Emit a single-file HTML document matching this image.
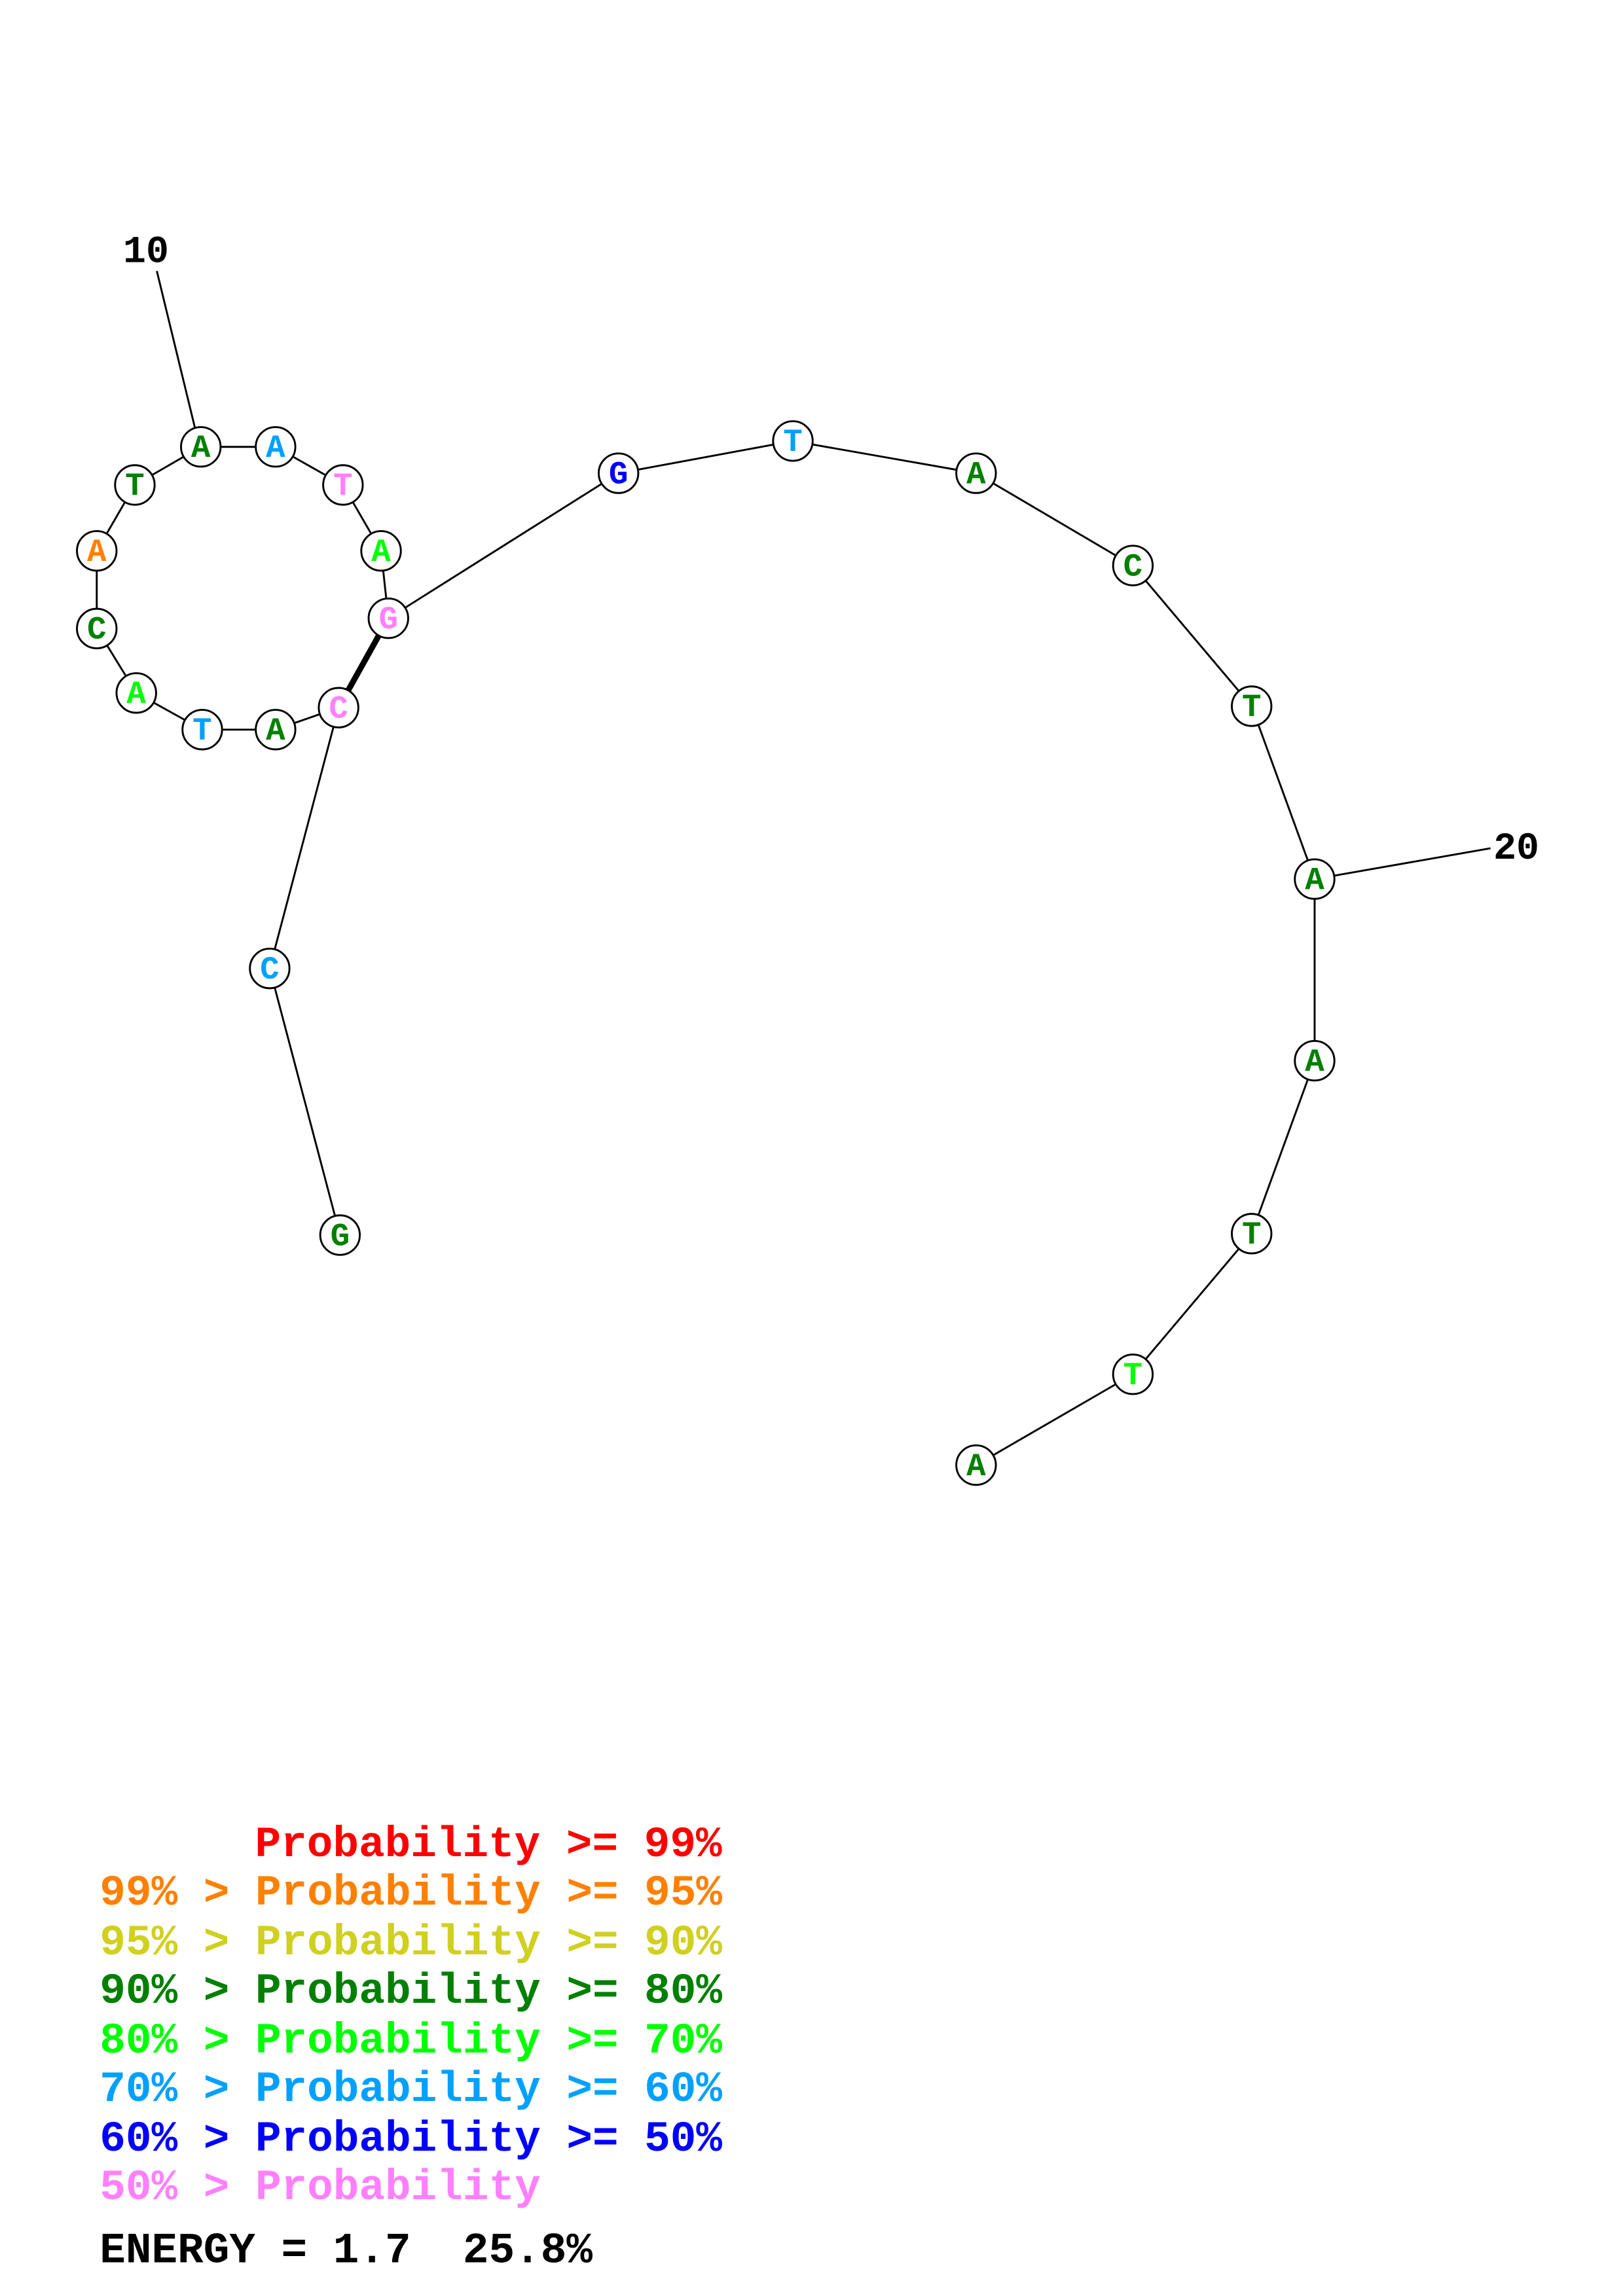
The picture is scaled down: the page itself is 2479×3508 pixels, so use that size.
<!DOCTYPE html>
<html><head><meta charset="utf-8"><style>
html,body{margin:0;padding:0;background:#fff;}
svg{display:block;}
text{font-family:"Liberation Mono",monospace;font-weight:bold;}
</style></head><body>
<svg width="2479" height="3508" viewBox="0 0 1107.4 1567.1" xmlns="http://www.w3.org/2000/svg">
<rect width="1110" height="1570" fill="#fff"/>
<g stroke="#000" stroke-width="1.3" fill="none">
<polyline points="232,843 184,661 231,483 188,498 138,498 93,473 66,429 66,376 92,331 137,305 188,305 234,331 260,376 265,422 422,323 541,301 666,323 773,386 854,482 897,600 897,724 854,842 773,938 666,1000"/>
<line x1="107" y1="185" x2="133" y2="292"/>
<line x1="897" y1="600" x2="1017" y2="579"/>
<line x1="231" y1="483" x2="265" y2="422" stroke-width="4"/>
</g>
<g stroke="#000" stroke-width="1.3" fill="#fff">
<circle cx="232" cy="843" r="13.5"/><circle cx="184" cy="661" r="13.5"/><circle cx="231" cy="483" r="13.5"/>
<circle cx="188" cy="498" r="13.5"/><circle cx="138" cy="498" r="13.5"/><circle cx="93" cy="473" r="13.5"/>
<circle cx="66" cy="429" r="13.5"/><circle cx="66" cy="376" r="13.5"/><circle cx="92" cy="331" r="13.5"/>
<circle cx="137" cy="305" r="13.5"/><circle cx="188" cy="305" r="13.5"/><circle cx="234" cy="331" r="13.5"/>
<circle cx="260" cy="376" r="13.5"/><circle cx="265" cy="422" r="13.5"/><circle cx="422" cy="323" r="13.5"/>
<circle cx="541" cy="301" r="13.5"/><circle cx="666" cy="323" r="13.5"/><circle cx="773" cy="386" r="13.5"/>
<circle cx="854" cy="482" r="13.5"/><circle cx="897" cy="600" r="13.5"/><circle cx="897" cy="724" r="13.5"/>
<circle cx="854" cy="842" r="13.5"/><circle cx="773" cy="938" r="13.5"/><circle cx="666" cy="1000" r="13.5"/>
</g>
<g font-size="22" text-anchor="middle" dominant-baseline="central">
<text x="232" y="844" fill="#008000">G</text>
<text x="184" y="662" fill="#00a0ff">C</text>
<text x="231" y="484" fill="#ff80ff">C</text>
<text x="188" y="499" fill="#008000">A</text>
<text x="138" y="499" fill="#00a0ff">T</text>
<text x="93" y="474" fill="#00ff00">A</text>
<text x="66" y="430" fill="#008000">C</text>
<text x="66" y="377" fill="#ff8000">A</text>
<text x="92" y="332" fill="#008000">T</text>
<text x="137" y="306" fill="#008000">A</text>
<text x="188" y="306" fill="#00a0ff">A</text>
<text x="234" y="332" fill="#ff80ff">T</text>
<text x="260" y="377" fill="#00ff00">A</text>
<text x="265" y="423" fill="#ff80ff">G</text>
<text x="422" y="324" fill="#0000ff">G</text>
<text x="541" y="302" fill="#00a0ff">T</text>
<text x="666" y="324" fill="#008000">A</text>
<text x="773" y="387" fill="#008000">C</text>
<text x="854" y="483" fill="#008000">T</text>
<text x="897" y="601" fill="#008000">A</text>
<text x="897" y="725" fill="#008000">A</text>
<text x="854" y="843" fill="#008000">T</text>
<text x="773" y="939" fill="#00ff00">T</text>
<text x="666" y="1001" fill="#008000">A</text>
</g>
<g font-size="26" fill="#000">
<text x="84" y="179">10</text>
<text x="1019" y="586">20</text>
</g>
<g font-size="29.5">
<text x="174" y="1267" fill="#ff0000">Probability &gt;= 99%</text>
<text x="68" y="1300" fill="#ff8000">99% &gt; Probability &gt;= 95%</text>
<text x="68" y="1334" fill="#d0d020">95% &gt; Probability &gt;= 90%</text>
<text x="68" y="1367" fill="#008000">90% &gt; Probability &gt;= 80%</text>
<text x="68" y="1401" fill="#00ff00">80% &gt; Probability &gt;= 70%</text>
<text x="68" y="1434" fill="#00a0ff">70% &gt; Probability &gt;= 60%</text>
<text x="68" y="1468" fill="#0000ff">60% &gt; Probability &gt;= 50%</text>
<text x="68" y="1501" fill="#ff80ff">50% &gt; Probability</text>
<text x="68" y="1544" fill="#000">ENERGY = 1.7&#160;&#160;25.8%</text>
</g>
</svg>
</body></html>
